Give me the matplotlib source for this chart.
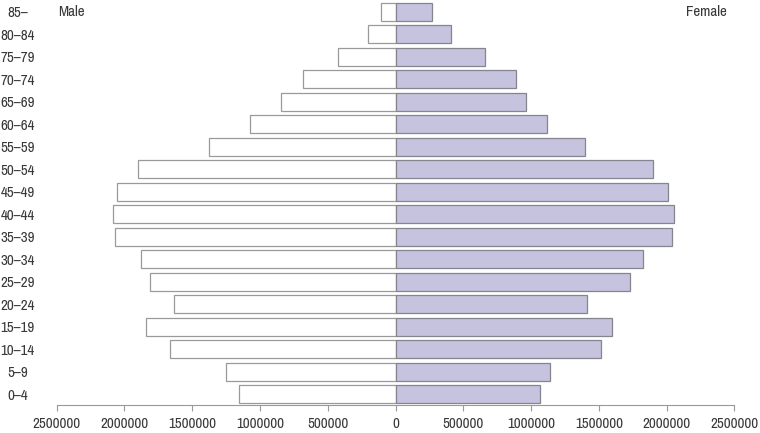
import matplotlib
matplotlib.use("Agg")
import matplotlib.pyplot as plt
import numpy as np

plt.rcParams['font.family'] = ['Archivo Narrow', 'Liberation Sans Narrow', 'DejaVu Sans']

# Age groups, bottom to top
age_groups = ['0–4', '5–9', '10–14', '15–19', '20–24', '25–29', '30–34', '35–39',
              '40–44', '45–49', '50–54', '55–59', '60–64', '65–69', '70–74',
              '75–79', '80–84', '85–']
male = [1152000, 1250000, 1661000, 1838000, 1636000, 1809000, 1875000, 2067000,
        2081000, 2052000, 1902000, 1373000, 1071000, 842000, 680000,
        422000, 201000, 105000]
female = [1069000, 1138000, 1514000, 1600000, 1416000, 1728000, 1827000, 2038000,
          2053000, 2013000, 1903000, 1396000, 1116000, 965000, 889000,
          663000, 407000, 267000]
xticks = [-2500000, -2000000, -1500000, -1000000, -500000, 0,
          500000, 1000000, 1500000, 2000000, 2500000]

fig = plt.figure(figsize=(7.6, 4.33), dpi=100)
ax = fig.add_axes([0.0746, 0.0647, 0.8916, 0.9353])

y = np.arange(len(age_groups))
ax.barh(y, [-m for m in male], height=0.8, color='white',
        edgecolor='#9a9a9a', linewidth=0.9)
ax.barh(y, female, height=0.8, color='#c6c3df',
        edgecolor='#85848f', linewidth=0.9)

ax.set_xlim(-2500000, 2500000)
ax.set_ylim(-0.476, 17.52)

ax.set_xticks(xticks)
ax.set_xticklabels([str(abs(t)) for t in xticks], fontsize=10.8, color='#383838')
ax.set_yticks(y)
ax.set_yticklabels(age_groups, fontsize=10.8, color='#383838', ha='center')
ax.tick_params(axis='y', length=0, pad=28)
ax.tick_params(axis='x', length=4, width=0.8, color='#999999', pad=5)

for side in ['top', 'right', 'left']:
    ax.spines[side].set_visible(False)
ax.spines['bottom'].set_color('#999999')
ax.spines['bottom'].set_linewidth(0.8)

ax.text(-2490000, 17, 'Male', ha='left', va='center', fontsize=10.8, color='#383838')
ax.text(2447000, 17, 'Female', ha='right', va='center', fontsize=10.8, color='#383838')

fig.savefig('out.png', dpi=100)
